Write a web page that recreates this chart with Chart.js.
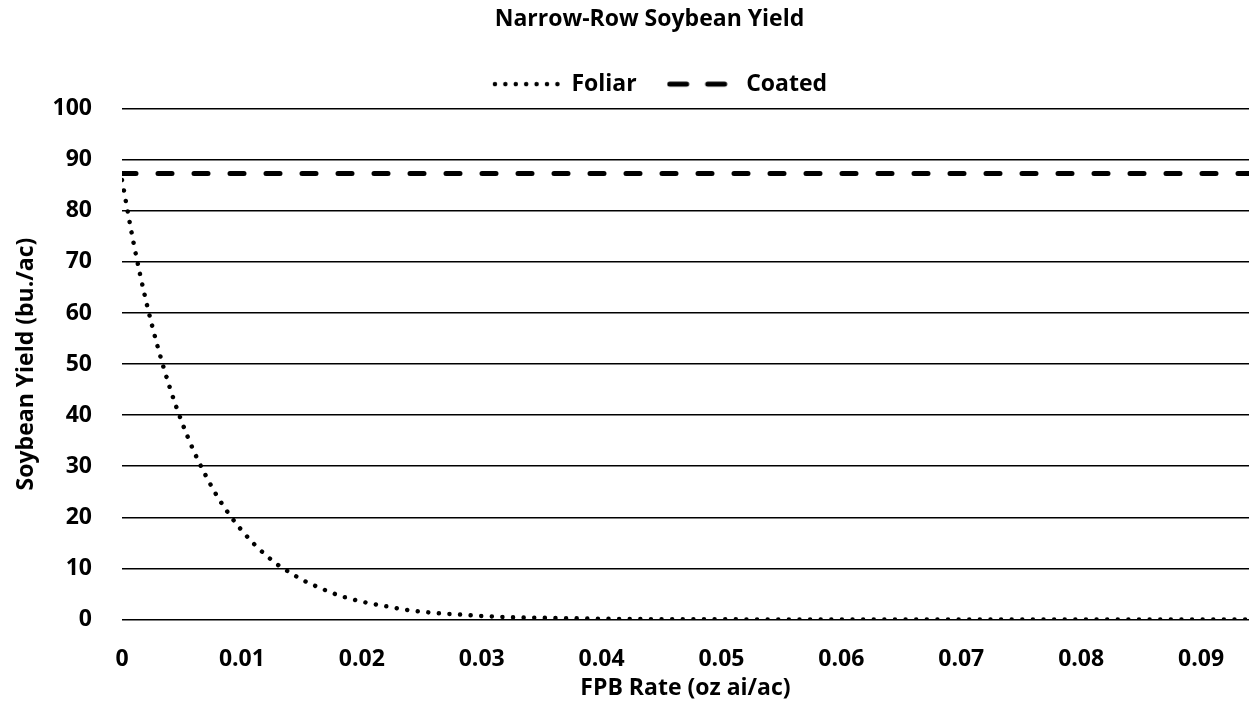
<!DOCTYPE html>
<html>
<head>
<meta charset="utf-8">
<script src="https://cdn.jsdelivr.net/npm/chart.js@4/dist/chart.umd.min.js"></script>
<style>
  html, body { margin: 0; padding: 0; background: #fff; }
  #wrap { width: 1249px; height: 712px; }
</style>
</head>
<body>
<div id="wrap"><canvas id="chart"></canvas></div>
<script>
// values
const foliarRates = [0, 0.001, 0.002, 0.003, 0.004, 0.005, 0.006, 0.007, 0.008, 0.009,
  0.010, 0.011, 0.012, 0.013, 0.014, 0.015, 0.016, 0.017, 0.018, 0.019,
  0.020, 0.022, 0.024, 0.026, 0.028, 0.030, 0.033, 0.036, 0.040, 0.045,
  0.050, 0.060, 0.070, 0.080, 0.094]
const foliarYield = [86, 73.3, 62.4, 53.2, 45.3, 38.6, 32.9, 28.1, 23.9, 20.4,
  17.4, 14.8, 12.6, 10.7, 9.2, 7.8, 6.7, 5.7, 4.8, 4.1,
  3.5, 2.6, 1.8, 1.3, 1.0, 0.7, 0.4, 0.3, 0.15, 0.06,
  0.03, 0, 0, 0, 0]
const coatedRates = [0, 0.094]
const coatedYield = [87.3, 87.3]
const seriesNames = ['Foliar', 'Coated']

const font = { family: 'Open Sans', weight: 'bold', size: 23 }
const ink = '#000'

const foliarDash = [0.01, 10.6]
const coatedDash = [14, 22]

const toPoints = (xs, ys) => xs.map((x, i) => ({ x: x, y: ys[i] }))

// small canvas with a dashed/dotted stroke, used as the legend marker
function legendSample(width, lineWidth, dash, offset) {
  const c = document.createElement('canvas')
  c.width = width
  c.height = 10
  const ctx = c.getContext('2d')
  ctx.strokeStyle = ink
  ctx.lineWidth = lineWidth
  ctx.lineCap = 'round'
  ctx.setLineDash(dash)
  ctx.lineDashOffset = offset
  ctx.beginPath()
  ctx.moveTo(3, 5)
  ctx.lineTo(width - 1, 5)
  ctx.stroke()
  return c
}
const legendMarks = [
  legendSample(68, 4.5, [0.01, 10.4], 0),
  legendSample(68, 5, [17, 21], 0)
]

// nudge title + legend to the right like the original layout
const shiftBlocks = {
  id: 'shiftBlocks',
  afterLayout(chart) {
    chart.titleBlock.left += 50
    chart.legend.left += 70
    chart.legend.top -= 3
  }
}

new Chart(document.getElementById('chart'), {
  type: 'line',
  data: {
    datasets: [{
      label: seriesNames[0],
      data: toPoints(foliarRates, foliarYield),
      borderColor: ink,
      backgroundColor: ink,
      borderWidth: 4.5,
      borderDash: foliarDash,
      borderCapStyle: 'round',
      pointRadius: 0,
      cubicInterpolationMode: 'monotone'
    }, {
      label: seriesNames[1],
      data: toPoints(coatedRates, coatedYield),
      borderColor: ink,
      backgroundColor: ink,
      borderWidth: 5,
      borderDash: coatedDash,
      borderCapStyle: 'round',
      pointRadius: 0
    }]
  },
  options: {
    responsive: true,
    maintainAspectRatio: false,
    animation: false,
    layout: { padding: 0 },
    plugins: {
      title: {
        display: true,
        text: 'Narrow-Row Soybean Yield',
        color: ink,
        font: font,
        padding: { top: 6, bottom: 12 }
      },
      legend: {
        display: true,
        labels: {
          color: ink,
          font: font,
          usePointStyle: true,
          pointStyleWidth: 68,
          padding: 30,
          generateLabels: (chart) =>
            Chart.defaults.plugins.legend.labels.generateLabels(chart).map((item, i) => {
              item.pointStyle = legendMarks[i]
              return item
            })
        }
      },
      tooltip: { enabled: false }
    },
    scales: {
      x: {
        type: 'linear',
        min: 0,
        max: 0.094,
        grid: { display: false },
        border: { display: false },
        ticks: {
          stepSize: 0.01,
          includeBounds: false,
          color: ink,
          font: font,
          padding: 18,
          callback: (v) => Number(v.toFixed(2)).toString()
        },
        title: {
          display: true,
          text: 'FPB Rate (oz ai/ac)',
          color: ink,
          font: font,
          padding: { top: 0, bottom: 10 }
        },
        afterFit: (scale) => { scale.height = 92.5 }
      },
      y: {
        min: 0,
        max: 100,
        grid: { color: ink, lineWidth: 1.5, drawTicks: false },
        border: { display: false },
        ticks: {
          stepSize: 10,
          color: ink,
          font: font,
          padding: 30
        },
        title: {
          display: true,
          text: 'Soybean Yield (bu./ac)',
          color: ink,
          font: font,
          padding: { top: 13, bottom: 0 }
        },
        afterFit: (scale) => { scale.width = 122 }
      }
    }
  },
  plugins: [shiftBlocks]
})
</script>
</body>
</html>
